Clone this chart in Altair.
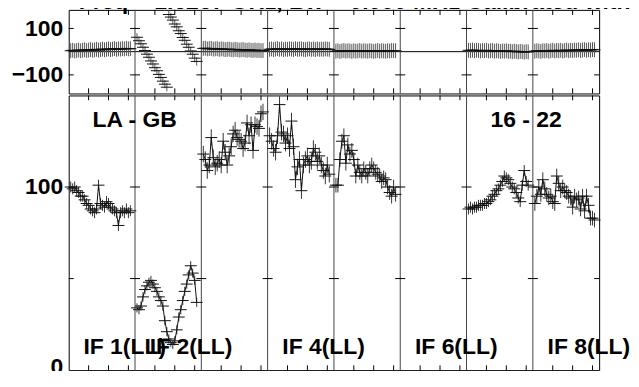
import altair as alt
import pandas as pd

# ---------------- data ----------------
channels = list(range(1, 32))
if_labels = ["IF 1(LL)", "IF 2(LL)", "IF 4(LL)", "IF 6(LL)", "IF 8(LL)"]
if_label_index = [1, 2, 4, 6, 8]

amp_if1 = [100, 99, 100, 98, 97, 95, 95, 93, 91, 90, 88, 87, 86, 88, 101, 91,
           90, 89, 92, 91, 89, 88, 87, 86, 79, 86, 87, 86, 88, 86, 87]
amp_if2 = [34, 33, 35, 40, 44, 46, 48, 49, 47, 45, 43, 40, 38, 35, 27, 21,
           17, 15, 14, 16, 22, 29, 33, 38, 43, 47, 52, 57, 53, 49, 37]
amp_if3 = [118, 115, 109, 112, 127, 116, 111, 113, 115, 112, 125, 119, 112, 117, 122, 129,
           131, 127, 126, 125, 121, 124, 135, 128, 134, 120, 134, 133, 132, 140, 141]
amp_if4 = [128, 125, 121, 119, 128, 145, 130, 129, 124, 128, 121, 136, 122, 104, 111, 115,
           98, 112, 115, 117, 112, 114, 121, 119, 114, 117, 112, 109, 106, 112, 107]
amp_if5 = [101, 101, 115, 125, 128, 113, 123, 118, 120, 115, 106, 112, 108, 106, 110, 108,
           106, 110, 112, 110, 108, 107, 106, 103, 105, 104, 100, 97, 95, 100, 96]
amp_if6 = []
amp_if7 = [88, 89, 88, 89, 89, 90, 90, 90, 91, 91, 92, 93, 95, 96, 98, 99,
           101, 103, 106, 105, 104, 102, 100, 99, 97, 94, 92, 101, 109, 103, 101]
amp_if8 = [91, 95, 100, 96, 104, 99, 96, 94, 95, 92, 91, 106, 102, 98, 100, 98,
           97, 95, 94, 89, 95, 93, 94, 88, 95, 87, 95, 90, 83, 83, 82]

ph_if1 = [4, 6, 3, 5, 7, 4, 6, 8, 5, 7, 9, 6, 8, 10, 7, 9,
          11, 8, 10, 12, 9, 11, 13, 10, 12, 11, 13, 12, 14, 12, 13]
ph_if2 = [62, 47, 34, 19, 5, -11, -24, -40, -53, -69, -82, -98, -111, -127, -140, -153,
          160, 149, 136, 119, 107, 90, 78, 61, 49, 32, 19, 3, -11, -28, -42]
ph_if3 = [14, 15, 12, 13, 14, 11, 12, 13, 10, 12, 11, 9, 10, 11, 9, 8,
          10, 9, 7, 8, 9, 7, 6, 8, 6, 5, 7, 5, 6, 4, 5]
ph_if4 = [10, 12, 9, 11, 13, 10, 12, 9, 11, 10, 12, 11, 9, 13, 10, 11,
          12, 10, 9, 11, 12, 10, 11, 9, 12, 10, 11, 10, 12, 11, 10]
ph_if5 = [2, 4, 1, 3, 5, 2, 4, 3, 1, 4, 2, 3, 5, 2, 4, 3,
          2, 4, 3, 1, 3, 5, 2, 4, 3, 2, 4, 3, 5, 4, 4]
ph_if6 = []
ph_if7 = [6, 5, 7, 4, 6, 5, 3, 5, 4, 6, 3, 4, 5, 2, 4, 3,
          1, 3, 2, 4, 1, 2, 0, 2, 1, -1, 1, 0, -2, 0, -1]
ph_if8 = [2, 4, 3, 1, 4, 3, 5, 2, 4, 6, 3, 5, 4, 6, 3, 5,
          7, 4, 6, 5, 7, 6, 8, 5, 7, 9, 6, 8, 7, 9, 8]

amp_err = [3.0, 2.5, 4.5, 4.5, 4.0, 0, 3.0, 4.0]
ph_err = [32, 18, 32, 32, 32, 0, 32, 32]

title_text = "Freq = 1.6267 GHz, Bw = 0.000 MHz   Calibrated with"
baseline_text = ["LA - GB", "16 - 22"]
baseline_panel = [1, 7]

# ---------------- layout constants ----------------
NIF = 8
SPAN = 100.0 / 3.0          # channel units per IF panel
TOTAL = NIF * SPAN
HALF = 3.0                  # half width of the cross arms (channels)
TICK_HALF = 2.5             # half length of the y ticks at the panel borders
FONT = "Liberation Sans"

amps = [amp_if1, amp_if2, amp_if3, amp_if4, amp_if5, amp_if6, amp_if7, amp_if8]
phs = [ph_if1, ph_if2, ph_if3, ph_if4, ph_if5, ph_if6, ph_if7, ph_if8]

rows = []
for k in range(NIF):
    for ch, a, p in zip(channels, amps[k], phs[k]):
        x = k * SPAN + ch
        rows.append(dict(ifn=k + 1, x=x, xl=x - HALF, xh=x + HALF,
                         amp=a, alo=a - amp_err[k], ahi=a + amp_err[k],
                         ph=p, plo=p - ph_err[k], phi=p + ph_err[k]))
df = pd.DataFrame(rows)

sep = pd.DataFrame({"b": [k * SPAN for k in range(1, NIF)]})


def yticks(values):
    r = []
    for k in range(NIF + 1):
        b = k * SPAN
        for v in values:
            r.append(dict(x1=max(0.0, b - TICK_HALF), x2=min(TOTAL, b + TICK_HALF), y=v))
    return pd.DataFrame(r)


def xticks(lo, hi, length):
    r = []
    for k in range(NIF):
        for c in (10, 20, 30):
            x = k * SPAN + c
            r.append(dict(x=x, y1=lo, y2=lo + length))
            r.append(dict(x=x, y1=hi, y2=hi - length))
    return pd.DataFrame(r)


xs = alt.Scale(domain=[0, TOTAL], nice=False, zero=False)
amp_scale = alt.Scale(domain=[0, 150], nice=False, zero=False)
ph_scale = alt.Scale(domain=[-180, 180], nice=False, zero=False)

INK = "#111111"


def yaxis(vals, offset=0):
    return alt.Axis(values=vals, title=None, ticks=False, domain=False, grid=False,
                    labelFont=FONT, labelFontSize=23, labelFontWeight="bold",
                    labelColor="black", labelPadding=6, format="d",
                    labelOffset={"condition": {"test": "datum.value == 0", "value": offset},
                                 "value": 0})


X = lambda f: alt.X(f, type="quantitative", scale=xs, axis=None)

# ---------------- phase panel ----------------
base_p = alt.Chart(df)
ph_h = base_p.mark_rule(color=INK, strokeWidth=1).encode(
    x=X("xl"), x2="xh", y=alt.Y("ph:Q", scale=ph_scale, axis=yaxis([-100, 100])))
ph_v = base_p.mark_rule(color="#555555", strokeWidth=1).encode(
    x=X("x"), y=alt.Y("plo:Q", scale=ph_scale), y2="phi")
zero = alt.Chart(pd.DataFrame({"z": [0]})).mark_rule(color="black", strokeWidth=1).encode(
    y=alt.Y("z:Q", scale=ph_scale))
sep_p = alt.Chart(sep).mark_rule(color="#444444", strokeWidth=1).encode(x=X("b"))
yt_p = alt.Chart(yticks([-100, 100])).mark_rule(color="black").encode(
    x=X("x1"), x2="x2", y=alt.Y("y:Q", scale=ph_scale))
xt_p = alt.Chart(xticks(-180, 180, 22)).mark_rule(color="black").encode(
    x=X("x"), y=alt.Y("y1:Q", scale=ph_scale), y2="y2")
title_mark = alt.Chart(pd.DataFrame({"t": [title_text]})).mark_text(
    font=FONT, fontSize=23, fontWeight="bold", align="left", baseline="alphabetic",
    color="black").encode(text="t:N", x=alt.value(10), y=alt.value(-1))

phase = alt.layer(title_mark, zero, sep_p, yt_p, xt_p, ph_v, ph_h).properties(
    width=533, height=84)

# ---------------- amplitude panel ----------------
amp_line = alt.Chart(df).mark_line(color=INK, strokeWidth=1).encode(
    x=X("x"), y=alt.Y("amp:Q", scale=amp_scale, axis=yaxis([0, 100], -4)), detail="ifn:N")
amp_h = alt.Chart(df).mark_rule(color=INK, strokeWidth=1).encode(
    x=X("xl"), x2="xh", y=alt.Y("amp:Q", scale=amp_scale))
amp_v = alt.Chart(df).mark_rule(color="#333333", strokeWidth=1).encode(
    x=X("x"), y=alt.Y("alo:Q", scale=amp_scale), y2="ahi")
sep_a = alt.Chart(sep).mark_rule(color="#444444", strokeWidth=1).encode(x=X("b"))
yt_a = alt.Chart(yticks([50, 100])).mark_rule(color="black").encode(
    x=X("x1"), x2="x2", y=alt.Y("y:Q", scale=amp_scale))
xt_a = alt.Chart(xticks(0, 150, 2.6)).mark_rule(color="black").encode(
    x=X("x"), y=alt.Y("y1:Q", scale=amp_scale), y2="y2")

lab_df = pd.DataFrame({
    "text": baseline_text + if_labels,
    "x": [(p - 1) * SPAN + 12 for p in baseline_panel] + [(i - 1) * SPAN + 7.4 for i in if_label_index],
    "y": [133] * len(baseline_text) + [9] * len(if_labels),
})
labels = alt.Chart(lab_df).mark_text(
    font=FONT, fontSize=23, fontWeight="bold", align="left", baseline="alphabetic",
    color="black").encode(x=X("x"), y=alt.Y("y:Q", scale=amp_scale), text="text:N")

amp = alt.layer(sep_a, yt_a, xt_a, amp_v, amp_h, amp_line, labels).properties(
    width=533, height=276)

chart = alt.vconcat(phase, amp, spacing=0).properties(
    padding={"left": 2, "top": -19, "right": -14, "bottom": -9}
).configure_view(stroke="black", strokeWidth=1).configure_concat(spacing=0)

chart.save("out.html", embed_options={"renderer": "svg", "actions": False})
